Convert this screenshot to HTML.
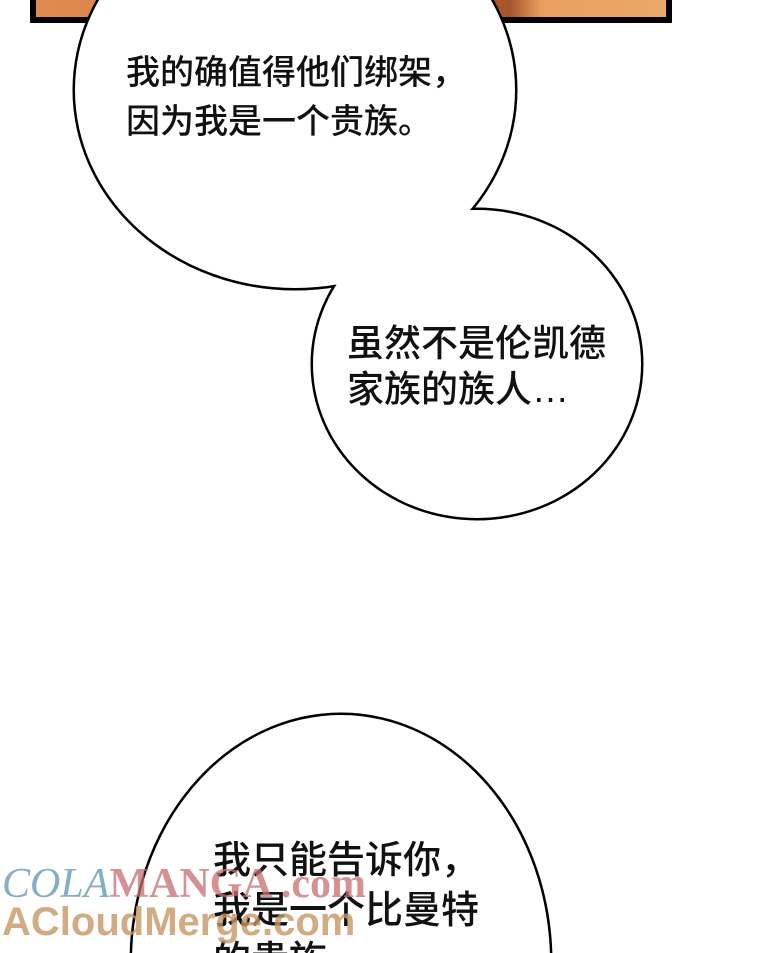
<!DOCTYPE html>
<html><head><meta charset="utf-8"><style>
html,body{margin:0;padding:0;background:#fff;width:760px;height:953px;overflow:hidden;position:relative}
.t{position:absolute;font-family:"Liberation Sans","Noto Sans CJK SC",sans-serif;color:#111;white-space:nowrap;font-weight:500}
</style></head><body>
<svg width="760" height="953" style="position:absolute;left:0;top:0">
<defs><linearGradient id="g" x1="0" x2="1"><stop offset="0" stop-color="#e08a50"/><stop offset="0.6" stop-color="#c9703c"/><stop offset="0.75" stop-color="#a8532a"/><stop offset="0.8" stop-color="#e9a060"/><stop offset="1" stop-color="#eaa868"/></linearGradient></defs>
<rect x="33" y="-5" width="636" height="25" fill="url(#g)" stroke="#000" stroke-width="6"/>
<g stroke="#000" stroke-width="5" fill="none">
<ellipse cx="295" cy="90" rx="220" ry="198"/>
<ellipse cx="477" cy="364" rx="164" ry="154"/>
<ellipse cx="341" cy="962" rx="209" ry="247"/>
</g>
<g fill="#fff">
<ellipse cx="295" cy="90" rx="220" ry="198"/>
<ellipse cx="477" cy="364" rx="164" ry="154"/>
<ellipse cx="341" cy="962" rx="209" ry="247"/>
</g>
</svg>
<div class="t" style="left:126px;top:49px;font-size:34px;line-height:49px">我的确值得他们绑架，<br>因为我是一个贵族。</div>
<div class="t" style="left:347px;top:321px;font-size:37px;line-height:46px">虽然不是伦凯德<br>家族的族人…</div>
<div class="t" style="left:213px;top:836px;font-size:38px;line-height:50px">我只能告诉你，<br>我是一个比曼特<br>的贵族</div>
<div class="t" style="left:2px;top:860px;font-size:42px;font-family:'Liberation Serif',serif;font-style:italic;font-weight:normal;color:rgba(110,160,190,.85)">COLA<span style="font-style:normal;font-weight:bold;color:rgba(200,110,110,.75)">MANGA .com</span></div>
<div class="t" style="left:2px;top:900px;font-size:40px;font-weight:bold;color:rgba(200,150,100,.8)">ACloudMerge.com</div>
</body></html>
